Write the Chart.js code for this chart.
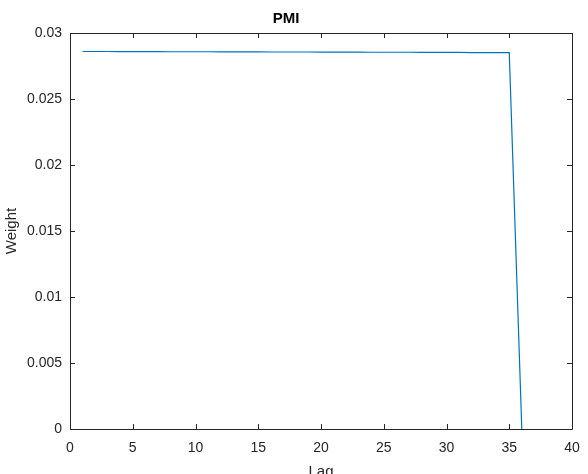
<!DOCTYPE html>
<html>
<head>
<meta charset="utf-8">
<script src="https://cdn.jsdelivr.net/npm/chart.js@4"></script>
<style>
  html, body { margin: 0; padding: 0; background: #fff; }
  #wrap { width: 588px; height: 474px; }
</style>
</head>
<body>
<div id="wrap"><canvas id="chart" width="588" height="474"></canvas></div>
<script>
// lags and weights
const lags = [1, 2, 3, 4, 5, 6, 7, 8, 9, 10, 11, 12, 13, 14, 15, 16, 17, 18,
              19, 20, 21, 22, 23, 24, 25, 26, 27, 28, 29, 30, 31, 32, 33, 34, 35, 36];
const weights = [0.02860, 0.02860, 0.02860, 0.02859, 0.02859, 0.02859, 0.02859, 0.02858,
                 0.02858, 0.02858, 0.02858, 0.02857, 0.02857, 0.02857, 0.02857, 0.02856,
                 0.02856, 0.02856, 0.02856, 0.02855, 0.02855, 0.02855, 0.02855, 0.02854,
                 0.02854, 0.02854, 0.02854, 0.02853, 0.02853, 0.02853, 0.02853, 0.02852,
                 0.02852, 0.02852, 0.02851, 0];
const xTicks = [0, 5, 10, 15, 20, 25, 30, 35, 40];
const yTicks = [0, 0.005, 0.01, 0.015, 0.02, 0.025, 0.03];

const axisColor = '#262626';
const family = 'Arial, "Liberation Sans", Helvetica, sans-serif';
const tickFont = { family, size: 14 };
const labelFont = { family, size: 15 };

// MATLAB-like box with inward ticks on all four sides
const boxPlugin = {
    id: 'box',
    afterDraw(chart) {
        const { ctx, chartArea: a, scales } = chart;
        const len = 5;
        ctx.save();
        ctx.strokeStyle = axisColor;
        ctx.lineWidth = 1;
        ctx.beginPath();
        ctx.rect(Math.round(a.left) + 0.5, Math.round(a.top) + 0.5,
                 Math.round(a.right - a.left), Math.round(a.bottom - a.top));
        xTicks.forEach(v => {
            const x = Math.round(scales.x.getPixelForValue(v)) + 0.5;
            ctx.moveTo(x, a.bottom); ctx.lineTo(x, a.bottom - len);
            ctx.moveTo(x, a.top); ctx.lineTo(x, a.top + len);
        });
        yTicks.forEach(v => {
            const y = Math.round(scales.y.getPixelForValue(v)) + 0.5;
            ctx.moveTo(a.left, y); ctx.lineTo(a.left + len, y);
            ctx.moveTo(a.right, y); ctx.lineTo(a.right - len, y);
        });
        ctx.stroke();
        ctx.restore();
    }
};

new Chart(document.getElementById('chart'), {
    type: 'line',
    data: {
        datasets: [{
            data: lags.map((l, i) => ({ x: l, y: weights[i] })),
            borderColor: '#0072BD',
            borderWidth: 1.2,
            pointRadius: 0,
            tension: 0,
            fill: false
        }]
    },
    options: {
        responsive: false,
        animation: false,
        layout: { padding: { left: 0, right: 16, top: 0, bottom: 0 } },
        plugins: {
            legend: { display: false },
            tooltip: { enabled: false },
            title: {
                display: true,
                text: 'PMI',
                color: '#000',
                font: { family, size: 15, weight: 'bold' },
                padding: { top: 10, bottom: 5 }
            }
        },
        scales: {
            x: {
                type: 'linear',
                min: 0, max: 40,
                afterBuildTicks: s => { s.ticks = xTicks.map(v => ({ value: v })); },
                afterFit: s => { s.height = 45; s.paddingLeft = 0; s.paddingRight = 0; },
                grid: { display: false, drawTicks: false },
                border: { display: false },
                ticks: { color: axisColor, font: tickFont, padding: 11, maxRotation: 0 },
                title: { display: true, text: 'Lag', color: axisColor,
                         font: labelFont, padding: { top: 0, bottom: -7 } }
            },
            y: {
                min: 0, max: 0.03,
                afterBuildTicks: s => { s.ticks = yTicks.map(v => ({ value: v })); },
                afterFit: s => { s.width = 70; },
                grid: { display: false, drawTicks: false },
                border: { display: false },
                ticks: { color: axisColor, font: tickFont, padding: 8,
                         callback: v => String(+v.toFixed(3)) },
                title: { display: true, text: 'Weight', color: axisColor,
                         font: labelFont, padding: { top: 3, bottom: 0 } }
            }
        }
    },
    plugins: [boxPlugin]
});
</script>
</body>
</html>
